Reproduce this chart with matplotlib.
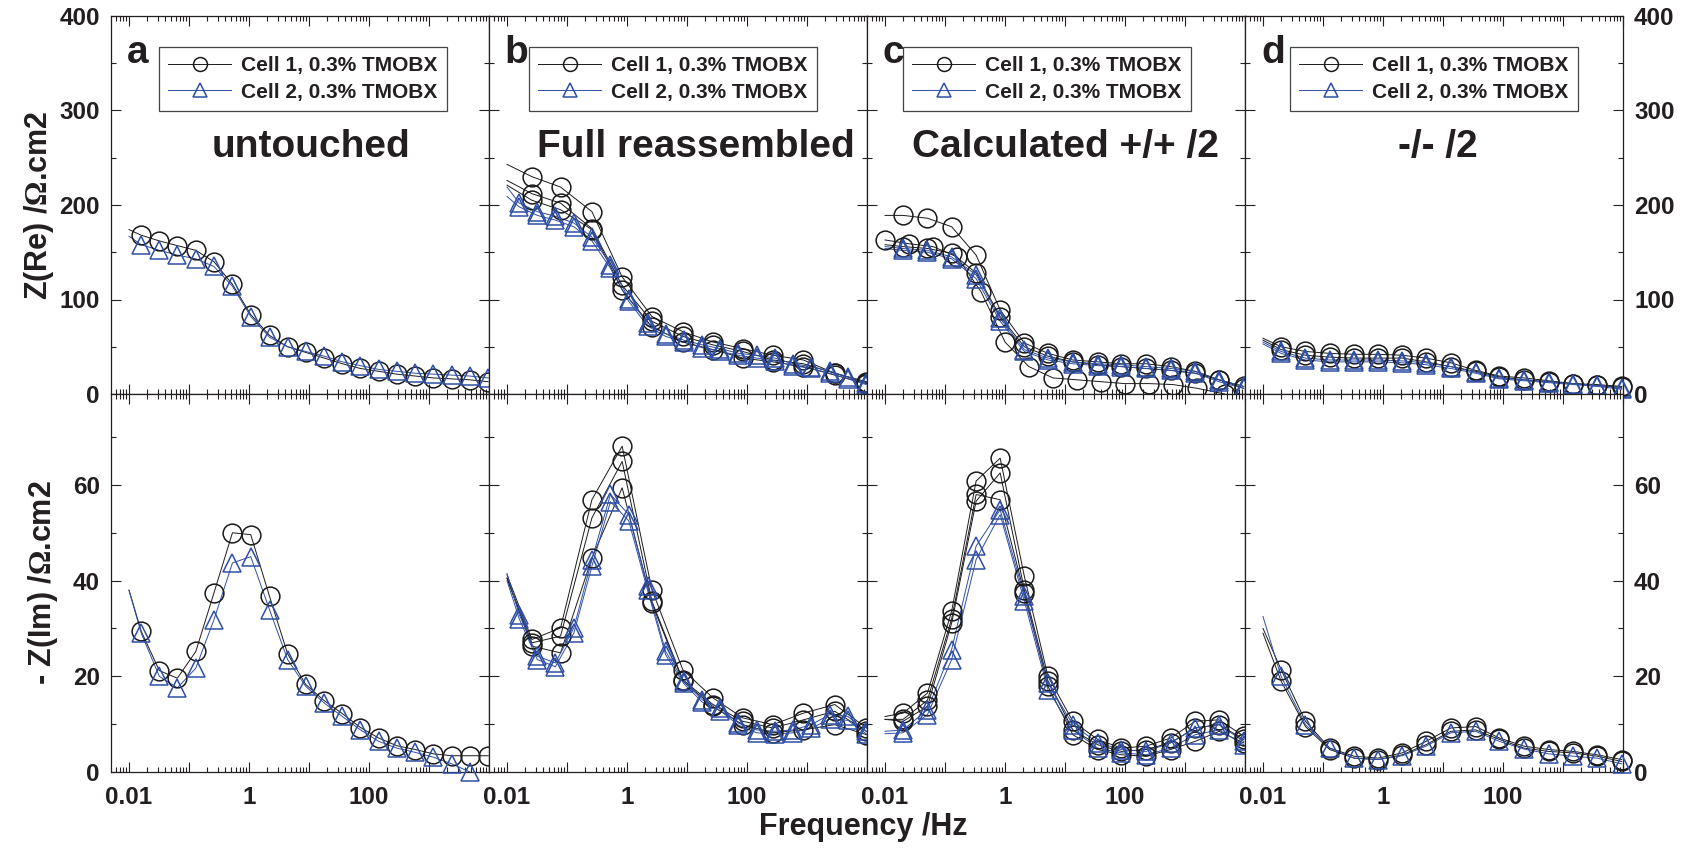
import numpy as np
import matplotlib
matplotlib.use('Agg')
import matplotlib.pyplot as plt
from matplotlib.ticker import LogLocator, FuncFormatter, MultipleLocator, NullFormatter
from matplotlib.lines import Line2D

plt.rcParams['font.family'] = ['Liberation Sans', 'DejaVu Sans']
plt.rcParams['font.weight'] = 'bold'
plt.rcParams['mathtext.fontset'] = 'custom'
plt.rcParams['mathtext.rm'] = 'Liberation Serif'

# ---- frequencies (Hz) ----
freq_a = [0.016, 0.032, 0.064, 0.13, 0.26, 0.53, 1.07, 2.2, 4.4, 8.8,
          18, 36, 72, 145, 290, 590, 1180, 2400, 4800, 9700]
freq_b = [0.026, 0.078, 0.26, 0.83, 2.6, 8.5, 27, 85, 270, 870, 2900, 9800]
freq_cd = [0.020, 0.051, 0.129, 0.33, 0.83, 2.1, 5.2, 13.5, 35, 87,
           224, 575, 1480, 3700, 9500]
freq_c_shift = [0.01, 0.025, 0.063, 0.16, 0.4, 1.0, 2.5, 6.3, 16, 40,
                100, 250, 630, 1600, 4600]
f_start = 0.01  # fit lines start here

# ---- panel a: untouched ----
a_re_c1 = [168, 162, 157, 152, 140, 116, 84, 62, 50, 44, 38, 32, 27, 24, 21, 19, 17, 16, 15, 13]
a_re_t1 = [158, 152, 147, 143, 135, 114, 82, 60, 50, 45, 40, 34, 30, 26, 24, 22, 21, 20, 19, 17]
a_im_c1 = [29.4, 21.2, 19.6, 25.2, 37.4, 50.0, 49.6, 36.7, 24.7, 18.3, 14.9, 12.2, 9.3, 7.1,
           5.5, 4.7, 3.8, 3.4, 3.4, 3.4]
a_im_t1 = [29.0, 20.0, 17.6, 21.7, 31.8, 43.7, 45.0, 33.9, 23.5, 17.9, 14.4, 11.6, 8.8, 6.4,
           5.0, 4.1, 3.1, 1.7, 0.0, np.nan]

# ---- panel b: full reassembled ----
b_re_c1 = [230, 219, 193, 124, 82, 66, 55, 48, 41, 36, 22, 13]
b_re_c2 = [212, 202, 175, 115, 77, 61, 52, 45, 36, 32, 22, 12]
b_re_c3 = [205, 195, 174, 110, 71, 55, 47, 38, 34, 29, 20, 11]
b_re_t1 = [202, 193, 188, 181, 166, 137, 101, 75, 64, 57, 52, 48, 43, 41, 38, 32, 29, 24, 18, 12]
b_re_t2 = [198, 189, 184, 177, 162, 133, 98, 72, 61, 55, 49, 45, 41, 38, 35, 30, 27, 22, 16, 10]
b_im_c1 = [27.7, 30.1, 56.9, 68.1, 38.1, 21.4, 15.5, 11.3, 9.9, 12.3, 14.1, 9.2]
b_im_c2 = [27.0, 28.4, 53.1, 64.9, 35.7, 19.3, 14.1, 10.6, 9.2, 10.9, 12.7, 8.5]
b_im_c3 = [26.3, 24.9, 44.7, 59.4, 35.3, 19.0, 13.7, 9.9, 8.2, 8.8, 9.9, 7.8]
b_im_t1 = [32.9, 24.2, 22.8, 30.1, 44.4, 58.0, 53.8, 38.8, 25.2, 19.0, 15.1, 13.4, 10.2, 8.8,
           8.5, 8.8, 9.9, 12.0, 11.6, 8.5]
b_im_t2 = [32.0, 23.5, 22.0, 29.0, 43.0, 56.5, 52.5, 38.0, 24.5, 18.5, 14.6, 12.8, 9.8, 8.2,
           7.9, 8.2, 9.2, 11.0, 10.8, 8.0]

# ---- panel c: calculated +/+ /2 ----
c_re_c1 = [189, 186, 177, 147, 89, 54, 43, 36, 34, 32, 32, 29, 24, 15, 8]
c_re_c2 = [156, 154, 149, 128, 82, 50, 40, 34, 31, 29, 27, 25, 22, 15, 6]
c_re_c3 = [163, 159, 156, 145, 108, 55, 29, 17, 15, 13, 11, 11, 10, 6, 0]
c_re_t1 = [154, 152, 145, 126, 80, 47, 38, 34, 32, 31, 29, 27, 24, 15, 8]
c_re_t2 = [152, 150, 143, 122, 77, 45, 36, 32, 30, 29, 27, 25, 22, 13, 6]
c_im_c1 = [12.3, 16.5, 33.6, 60.8, 65.6, 40.9, 20.0, 10.6, 6.8, 5.0, 5.4, 7.1, 10.6, 10.9, 7.5]
c_im_c2 = [10.6, 13.7, 31.1, 56.6, 62.5, 38.1, 19.0, 8.8, 5.7, 4.3, 4.7, 6.1, 9.2, 9.9, 6.8]
c_im_c3 = [11.0, 15.0, 32.0, 58.0, 56.9, 37.4, 17.9, 7.8, 4.7, 3.6, 3.3, 4.7, 6.4, 8.5, 6.1]
c_im_t1 = [8.8, 13.0, 25.6, 47.2, 54.8, 36.7, 18.6, 9.9, 6.1, 4.7, 4.3, 6.1, 9.2, 9.9, 6.4]
c_im_t2 = [8.2, 12.0, 23.5, 44.4, 53.8, 35.7, 17.2, 8.8, 5.0, 4.0, 3.6, 5.0, 7.8, 8.8, 5.7]

# ---- panel d: -/- /2 ----
d_re_c1 = [50, 45, 43, 42, 42, 41, 38, 33, 25, 19, 17, 14, 11, 10, 8]
d_re_c2 = [47, 41, 39, 38, 38, 38, 34, 29, 24, 18, 15, 13, 11, 9, 7]
d_re_t1 = [45, 38, 36, 36, 36, 35, 33, 29, 23, 17, 15, 13, 11, 9, 6]
d_re_t2 = [43, 36, 34, 34, 34, 33, 31, 27, 22, 16, 14, 12, 10, 8, 5]
d_im_c1 = [21.4, 10.6, 5.0, 3.3, 2.9, 4.0, 6.4, 9.2, 9.5, 7.1, 5.4, 4.7, 4.3, 3.6, 2.6]
d_im_c2 = [19.0, 9.5, 4.7, 2.9, 2.6, 3.6, 5.7, 8.5, 8.8, 6.8, 5.0, 4.3, 4.0, 3.3, 2.2]
d_im_t1 = [20.0, 9.9, 5.0, 2.9, 2.6, 3.4, 5.4, 8.2, 8.5, 6.4, 4.8, 3.8, 3.3, 2.9, 1.7]

panel_letters = ['a', 'b', 'c', 'd']
panel_titles = ['untouched', 'Full reassembled', 'Calculated +/+ /2', '-/- /2']
title_x = [0.529, 0.548, 0.526, 0.511]
legend_x = [0.127, 0.106, 0.095, 0.119]
legend_labels = ['Cell 1, 0.3% TMOBX', 'Cell 2, 0.3% TMOBX']

BLACK = '#1a1a1a'
BLUE = '#2f4fa6'
TXT = '#231f20'

# (freq, values, fit-line start value or None, cell)
top_series = [
    [(freq_a, a_re_c1, 174, 1), (freq_a, a_re_t1, 167, 2)],
    [(freq_b, b_re_c1, 243, 1), (freq_b, b_re_c2, 226, 1), (freq_b, b_re_c3, 221, 1),
     (freq_a, b_re_t1, 219, 2), (freq_a, b_re_t2, 209, 2)],
    [(freq_cd, c_re_c1, 189, 1), (freq_cd, c_re_c2, 158, 1), (freq_c_shift, c_re_c3, None, 1),
     (freq_cd, c_re_t1, 156, 2), (freq_cd, c_re_t2, 154, 2)],
    [(freq_cd, d_re_c1, 59, 1), (freq_cd, d_re_c2, 57, 1),
     (freq_cd, d_re_t1, 55, 2), (freq_cd, d_re_t2, 53, 2)],
]
bottom_series = [
    [(freq_a, a_im_c1, 38, 1), (freq_a, a_im_t1, 38, 2)],
    [(freq_b, b_im_c1, 41.2, 1), (freq_b, b_im_c2, 40.5, 1), (freq_b, b_im_c3, 40.5, 1),
     (freq_a, b_im_t1, 41.5, 2), (freq_a, b_im_t2, 40, 2)],
    [(freq_cd, c_im_c1, 11.6, 1), (freq_cd, c_im_c2, 11, 1), (freq_cd, c_im_c3, 11, 1),
     (freq_cd, c_im_t1, 8.5, 2), (freq_cd, c_im_t2, 8, 2)],
    [(freq_cd, d_im_c1, 30, 1), (freq_cd, d_im_c2, 29, 1), (freq_cd, d_im_t1, 32.5, 2)],
]


def draw(ax, f, y, start, cell):
    color = BLACK if cell == 1 else BLUE
    marker = 'o' if cell == 1 else '^'
    ms = 13.5 if cell == 1 else 13
    if start is not None:
        xl = [f_start] + list(f)
        yl = [start] + list(y)
    else:
        xl, yl = f, y
    ax.plot(xl, yl, '-', color=color, lw=0.7, zorder=2)
    ax.plot(f, y, ls='none', marker=marker, ms=ms, mfc='none', mec=color,
            mew=1.1, zorder=3, clip_on=False)


def xfmt(v, pos):
    for t, s in [(0.01, '0.01'), (1, '1'), (100, '100')]:
        if np.isclose(v, t):
            return s
    return ''


W, H = 1688, 849
x0, y0, pw, ph = 111, 16, 378, 378
fig = plt.figure(figsize=(W / 100, H / 100), dpi=100)

for r in range(2):
    for c in range(4):
        ax = fig.add_axes([(x0 + c * pw) / W, 1 - (y0 + (r + 1) * ph) / H, pw / W, ph / H])
        ax.set_xscale('log')
        ax.set_xlim(10 ** -2.3, 1e4)
        for s in ax.spines.values():
            s.set_linewidth(0.9)
            s.set_color(TXT)
        ax.xaxis.set_major_locator(LogLocator(base=10, numticks=20))
        ax.xaxis.set_minor_locator(LogLocator(base=10, subs=np.arange(2, 10), numticks=20))
        ax.xaxis.set_minor_formatter(NullFormatter())
        if r == 0:
            ax.set_ylim(0, 400)
            ax.yaxis.set_major_locator(MultipleLocator(100))
            ax.yaxis.set_minor_locator(MultipleLocator(50))
            ax.xaxis.set_major_formatter(NullFormatter())
            for f, y, st, cell in top_series[c]:
                draw(ax, f, y, st, cell)
            ax.text(0.042, 0.876, panel_letters[c], transform=ax.transAxes,
                    fontsize=28, fontweight='bold', color=TXT, va='baseline')
            ax.text(title_x[c], 0.627, panel_titles[c], transform=ax.transAxes,
                    fontsize=28, fontweight='bold', color=TXT, va='baseline', ha='center')
            handles = [
                Line2D([], [], color=BLACK, lw=0.7, marker='o', ms=10, mfc='none', mec=BLACK, mew=1.1),
                Line2D([], [], color=BLUE, lw=0.7, marker='^', ms=10, mfc='none', mec=BLUE, mew=1.1),
            ]
            leg = ax.legend(handles, legend_labels, loc='upper left',
                            bbox_to_anchor=(legend_x[c], 0.918), borderaxespad=0,
                            fancybox=False, framealpha=1, edgecolor='#444444',
                            prop={'size': 15, 'weight': 'bold'}, handlelength=3.0,
                            handletextpad=0.5, labelspacing=0.35, borderpad=0.45)
            leg.get_frame().set_linewidth(0.9)
            for t in leg.get_texts():
                t.set_color(TXT)
        else:
            ax.set_ylim(0, 79)
            ax.yaxis.set_major_locator(MultipleLocator(20))
            ax.yaxis.set_minor_locator(MultipleLocator(10))
            ax.xaxis.set_major_formatter(FuncFormatter(xfmt))
            for f, y, st, cell in bottom_series[c]:
                draw(ax, f, y, st, cell)
        ax.tick_params(which='both', direction='in', top=True, bottom=True,
                       left=True, right=True, colors=TXT, labelsize=17.5, width=0.8)
        ax.tick_params(which='major', length=7)
        ax.tick_params(which='minor', length=3.5)
        ax.tick_params(axis='x', pad=10)
        ax.tick_params(axis='y', pad=8, labelleft=(c == 0), labelright=(c == 3))
        for lab in ax.get_xticklabels() + ax.get_yticklabels():
            lab.set_fontweight('bold')

fig.text(39 / W, 1 - 205 / H, r'Z(Re) /$\mathrm{\Omega}$.cm2', rotation=90,
         fontsize=22, fontweight='bold', color=TXT, ha='center', va='center')
fig.text(43 / W, 1 - 583 / H, r'- Z(Im) /$\mathrm{\Omega}$.cm2', rotation=90,
         fontsize=22, fontweight='bold', color=TXT, ha='center', va='center')
fig.text(863 / W, 1 - 827 / H, 'Frequency /Hz', fontsize=22, fontweight='bold',
         color=TXT, ha='center', va='center')

fig.savefig('out.png', dpi=100)
